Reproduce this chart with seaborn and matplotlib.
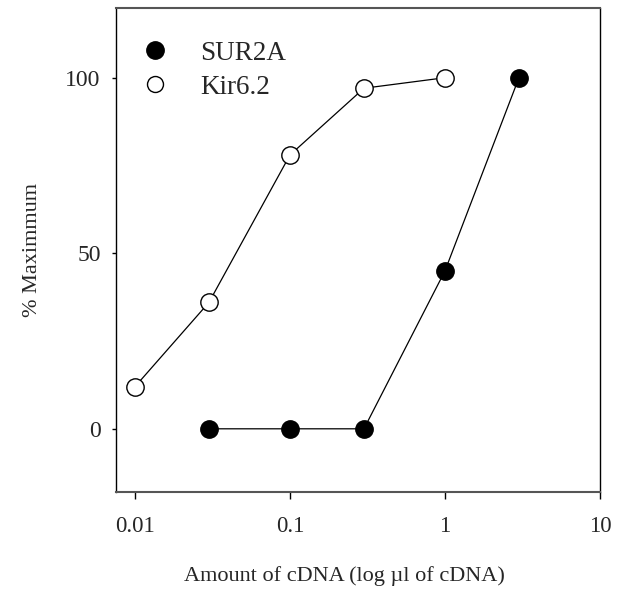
import matplotlib
matplotlib.use("Agg")
import matplotlib.pyplot as plt
import seaborn as sns
import pandas as pd
from matplotlib.lines import Line2D

sur2a_x = [0.03, 0.1, 0.3, 1, 3]
sur2a_y = [0, 0, 0, 45, 100]
kir_x = [0.01, 0.03, 0.1, 0.3, 1]
kir_y = [12, 36, 78, 97, 100]
x_ticks = [0.01, 0.1, 1, 10]
x_ticklabels = ["0.01", "0.1", "1", "10"]
y_ticks = [0, 50, 100]

sns.set_theme(style="white")
plt.rcParams["font.family"] = ["Liberation Serif", "DejaVu Serif"]

fig = plt.figure(figsize=(6.18, 5.90), dpi=100)
ax = fig.add_axes([116/618, 1-492/590, (600-116)/618, (492-7.5)/590])

df_s = pd.DataFrame({"x": sur2a_x, "y": sur2a_y})
df_k = pd.DataFrame({"x": kir_x, "y": kir_y})

sns.lineplot(data=df_s, x="x", y="y", ax=ax, color="black", lw=0.9,
             marker="o", markersize=12.5, markerfacecolor="black",
             markeredgecolor="black", markeredgewidth=1.0)
sns.lineplot(data=df_k, x="x", y="y", ax=ax, color="black", lw=0.9,
             marker="o", markersize=12.5, markerfacecolor="white",
             markeredgecolor="black", markeredgewidth=1.0)

ax.set_xscale("log")
ax.set_xlim(10**(-2 - 19/155), 10)
ax.set_ylim(-18, 120)
ax.set_xticks(x_ticks)
ax.set_xticklabels(x_ticklabels)
ax.minorticks_off()
ax.set_yticks(y_ticks)

for s in ax.spines.values():
    s.set_visible(True)
    s.set_color("black")
    s.set_linewidth(1.0)
ax.spines["bottom"].set_color("#555555")
ax.spines["bottom"].set_linewidth(1.5)
ax.spines["top"].set_color("#555555")
ax.spines["top"].set_linewidth(1.5)

ax.tick_params(axis="x", direction="out", length=5, width=1, color="black",
               pad=12.5, labelsize=16.5, bottom=True)
ax.tick_params(axis="y", direction="out", length=3, width=1, color="black",
               pad=8, labelsize=17, left=True)

ax.set_xlabel("Amount of cDNA (log µl of cDNA)", fontsize=16, labelpad=21)
ax.xaxis.label.set_x((344 - 116) / 484)
ax.set_ylabel("% Maximmum", fontsize=16, labelpad=17)

handles = [
    Line2D([], [], ls="none", marker="o", markersize=12.5, markerfacecolor="black",
           markeredgecolor="black", markeredgewidth=1.0),
    Line2D([], [], ls="none", marker="o", markersize=11.5, markerfacecolor="white",
           markeredgecolor="black", markeredgewidth=1.0),
]
ax.legend(handles, ["SUR2A", "Kir6.2"], loc="upper left", frameon=False,
          fontsize=19.5, handlelength=1.0, handletextpad=1.17, labelspacing=0.345,
          bbox_to_anchor=(0.030, 0.954), borderaxespad=0)

fig.savefig("out.png", dpi=100)
